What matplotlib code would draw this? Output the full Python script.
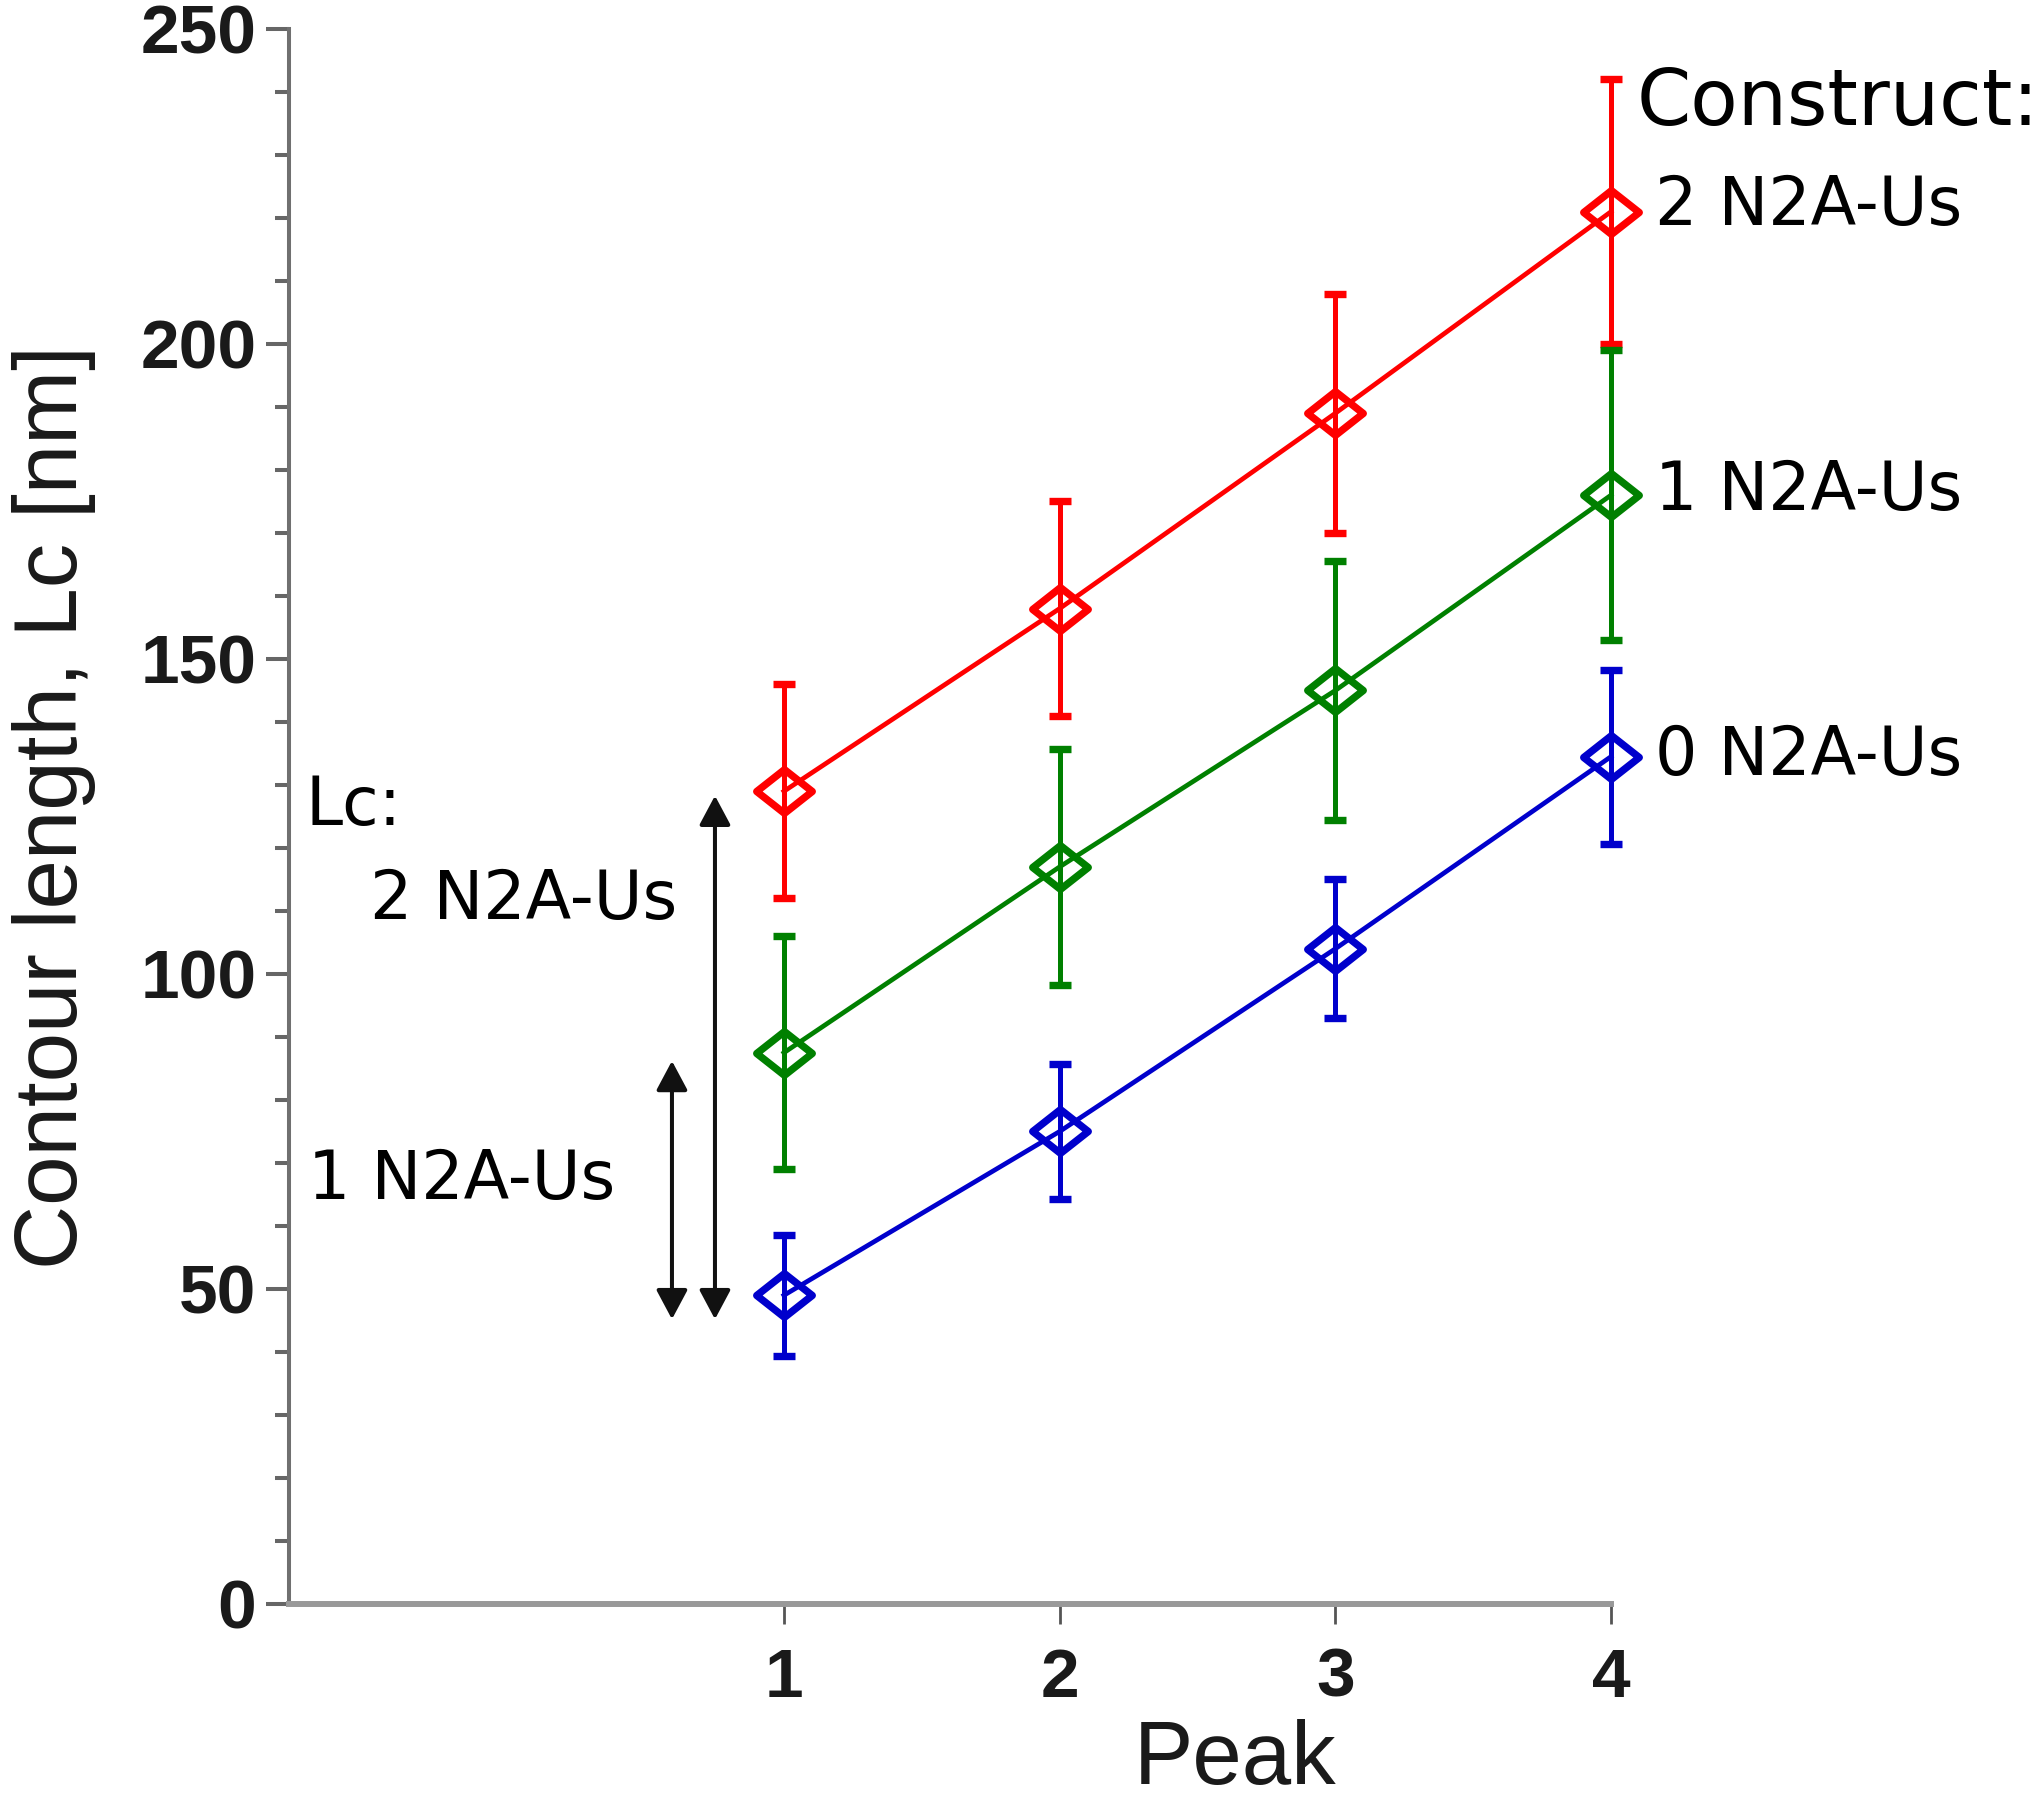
import numpy as np
import matplotlib
matplotlib.use("Agg")
from matplotlib import pyplot as plt
from matplotlib.path import Path
from matplotlib.ticker import MultipleLocator

# Data
peaks = [1, 2, 3, 4]
lc_2 = [129, 158, 189, 221]
err_2 = [17, 17, 19, 21]
lc_1 = [87.5, 117, 145, 176]
err_1 = [18.5, 18.7, 20.5, 23]
lc_0 = [49, 75, 104, 134.5]
err_0 = [9.6, 10.7, 11, 13.8]

series_labels = ['2 N2A-Us', '1 N2A-Us', '0 N2A-Us']
label_y = [218.9, 173.7, 131.6]
colors = ['#ff0000', '#008000', '#0000cc']

# Lc differences shown by the arrows
arrow_base = 45.2
arrow_tops = [86.2, 128.3]
arrow_x = [0.594, 0.75]

sans = 'Liberation Sans'
ann = 'DejaVu Sans'

fig = plt.figure(figsize=(20.42, 18.05), dpi=100)
ax = fig.add_axes([0.14153, 0.11136, 0.6474, 0.87258])

diamond = Path([(-1.27, 0), (0, 1), (1.27, 0), (0, -1), (-1.27, 0)],
               [Path.MOVETO, Path.LINETO, Path.LINETO, Path.LINETO, Path.CLOSEPOLY])

for vals, errs, c in zip([lc_2, lc_1, lc_0], [err_2, err_1, err_0], colors):
    ln, caps, bars = ax.errorbar(peaks, vals, yerr=errs, color=c, lw=3.4, elinewidth=3.6,
                                 capsize=8, capthick=3.8, marker=diamond, markersize=40,
                                 mfc='none', mec=c, mew=5.3, zorder=3)
    ln.set_clip_on(False)
    for a in list(caps) + list(bars):
        a.set_clip_on(False)

# Right hand series labels
ax.text(4.094, 234.8, 'Construct:', fontsize=56, family=ann, va='baseline', ha='left')
for lab, y in zip(series_labels, label_y):
    ax.text(4.159, y, lab, fontsize=48, family=ann, va='baseline', ha='left')

# Left annotations and arrows
ax.text(-0.734, 123.6, 'Lc:', fontsize=48, family=ann, va='baseline', ha='left')
ax.text(0.612, 108.7, '2 N2A-Us', fontsize=48, family=ann, va='baseline', ha='right')
ax.text(-0.727, 64.3, '1 N2A-Us', fontsize=48, family=ann, va='baseline', ha='left')
for x, top in zip(arrow_x, arrow_tops):
    ax.annotate('', xy=(x, top), xytext=(x, arrow_base),
                arrowprops=dict(arrowstyle='<|-|>,head_length=0.45,head_width=0.24',
                                mutation_scale=40, lw=2.9, color='#111111',
                                shrinkA=0, shrinkB=0))

ax.set_xlim(-0.795, 4)
ax.set_ylim(0, 250)
ax.set_xticks(peaks)
ax.yaxis.set_major_locator(MultipleLocator(50))
ax.yaxis.set_minor_locator(MultipleLocator(10))

for s in ['top', 'right']:
    ax.spines[s].set_visible(False)
ax.spines['left'].set_linewidth(2.9)
ax.spines['left'].set_color('#707070')
ax.spines['bottom'].set_linewidth(4.3)
ax.spines['bottom'].set_color('#999999')

ax.tick_params(axis='y', which='major', length=16.5, width=2.9, color='#666666', pad=7)
ax.tick_params(axis='y', which='minor', length=10, width=2.9, color='#666666')
ax.tick_params(axis='x', which='major', length=14.4, width=2, color='#555555', pad=16.5)
for lab in ax.get_xticklabels() + ax.get_yticklabels():
    lab.set_fontfamily(sans)
    lab.set_fontweight('bold')
    lab.set_fontsize(50)
    lab.set_color('#1a1a1a')

ax.set_xlabel('Peak', fontsize=64, family=sans, color='#1a1a1a')
ax.xaxis.set_label_coords(0.716, -0.073)
ax.set_ylabel('Contour length, Lc [nm]', fontsize=64, family=sans, color='#1a1a1a')
ax.yaxis.set_label_coords(-0.146, 0.506)

fig.savefig('out.png', dpi=100)
